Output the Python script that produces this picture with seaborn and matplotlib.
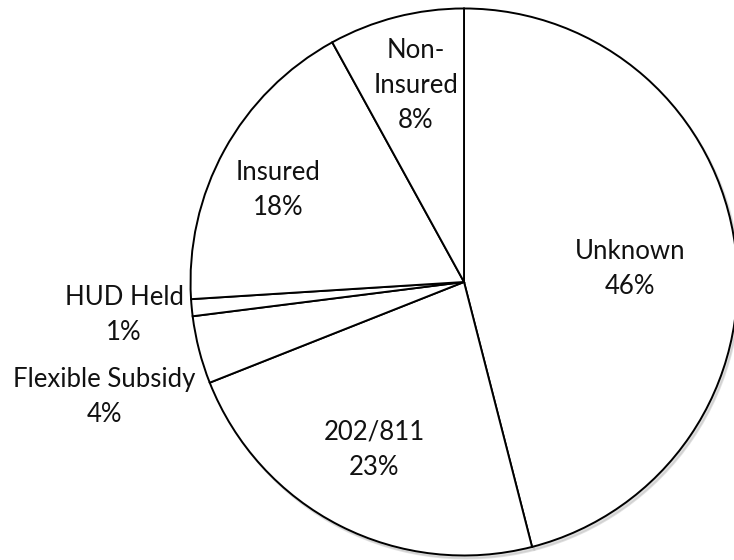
import matplotlib
matplotlib.use("Agg")
import matplotlib.pyplot as plt
import seaborn as sns

# ==========================================
# Data
# ==========================================

categories = ["Unknown", "202/811", "Flexible Subsidy", "HUD Held", "Insured", "Non-\nInsured"]
shares = [46, 23, 4, 1, 18, 8]
pct_labels = ["46%", "23%", "4%", "1%", "18%", "8%"]

# where each label block is centred (pie radius = 1)
label_xy = [(0.607, 0.048), (-0.329, -0.614), (-1.316, -0.420),
            (-1.243, -0.121), (-0.680, 0.336), (-0.176, 0.717)]

# ==========================================
# Style
# ==========================================

sns.set_theme(style="white")
plt.rcParams['font.family'] = ['Lato', 'DejaVu Sans']

fig = plt.figure(figsize=(7.34, 5.6), dpi=100)
ax = fig.add_axes([0, 0, 1, 1])

labels = [c + "\n" + p for c, p in zip(categories, pct_labels)]

wedges, texts = ax.pie(
    shares,
    labels=labels,
    startangle=90,
    counterclock=False,
    colors=["white"] * len(shares),
    shadow=dict(ox=0.006, oy=-0.008, shade=0.25),
    wedgeprops=dict(edgecolor="black", linewidth=1.4),
    textprops=dict(fontsize=18.5, color="#111111", linespacing=1.5),
)

for t, (x, y) in zip(texts, label_xy):
    t.set_position((x, y))
    t.set_ha("center")
    t.set_va("center")
    t.set_multialignment("center")

ax.set_aspect("equal")
ax.set_xlim(-1.6965, 0.987)
ax.set_ylim(-1.0165, 1.031)
ax.axis("off")

fig.savefig("out.png", dpi=100, facecolor="white")
